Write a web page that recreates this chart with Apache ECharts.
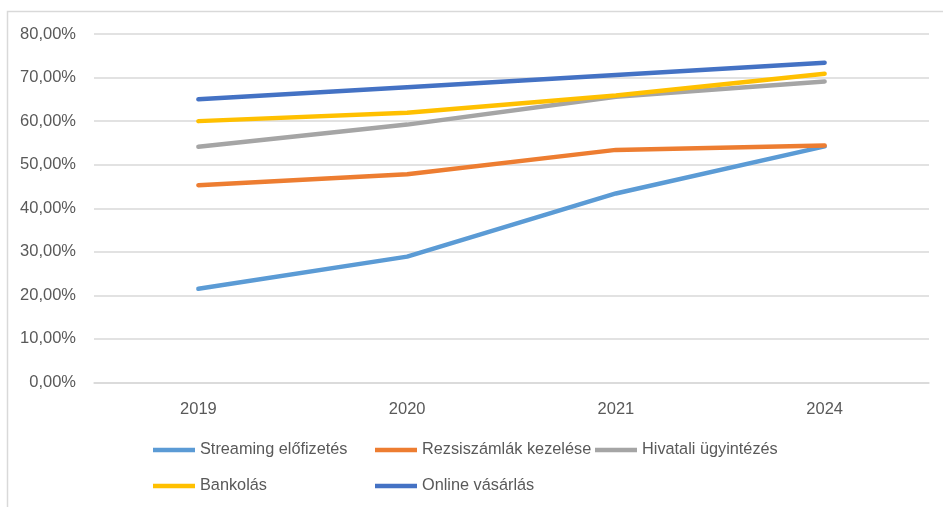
<!DOCTYPE html>
<html><head><meta charset="utf-8">
<script src="https://cdn.jsdelivr.net/npm/echarts@6/dist/echarts.min.js"></script>
<style>html,body{margin:0;padding:0;background:#fff}#c{width:943px;height:507px}</style>
</head><body><div id="c"></div>
<script>
const categories = ['2019', '2020', '2021', '2024'];
const streaming = [21.5, 28.9, 43.4, 54.2];
const rezsi = [45.3, 47.8, 53.4, 54.4];
const hivatali = [54.1, 59.2, 65.6, 69.1];
const bankolas = [60.0, 61.9, 65.9, 70.9];
const online = [65.0, 67.8, 70.6, 73.4];
const seriesNames = ['Streaming előfizetés', 'Rezsiszámlák kezelése', 'Hivatali ügyintézés', 'Bankolás', 'Online vásárlás'];
const colors = ['#5B9BD5', '#ED7D31', '#A5A5A5', '#FFC000', '#4472C4'];
const values = [streaming, rezsi, hivatali, bankolas, online];

const font = 'Liberation Sans';
const chart = echarts.init(document.getElementById('c'), null, {renderer: 'canvas'});
const legendSlots = [[153, 437], [375, 437], [595, 437], [153, 473], [375, 473]];
const legends = seriesNames.map((n, i) => ({
  data: [n], left: legendSlots[i][0] - 5, top: legendSlots[i][1],
  itemWidth: 42, itemHeight: 4.5, icon: 'rect', selectedMode: false,
  textStyle: {fontFamily: font, fontSize: 16.3, color: '#595959'}
}));
chart.setOption({
  animation: false,
  color: colors,
  graphic: [{type: 'rect', shape: {x: 7.5, y: 11.5, width: 950, height: 510}, style: {fill: 'none', stroke: '#d9d9d9', lineWidth: 1.5}}],
  grid: {left: 94, right: 14, top: 34, bottom: 124.5},
  legend: legends,
  xAxis: {
    type: 'category', data: categories, boundaryGap: true,
    axisLine: {show: true, lineStyle: {color: '#d9d9d9', width: 1.5}},
    axisTick: {show: false},
    axisLabel: {fontFamily: font, fontSize: 16.5, color: '#595959', margin: 18}
  },
  yAxis: {
    type: 'value', min: 0, max: 80, interval: 10,
    axisLine: {show: false}, axisTick: {show: false},
    splitLine: {lineStyle: {color: '#d9d9d9', width: 1.5}},
    axisLabel: {fontFamily: font, fontSize: 16.5, color: '#595959', margin: 18,
      formatter: v => v.toFixed(2).replace('.', ',') + '%'}
  },
  series: values.map((d, i) => ({
    name: seriesNames[i], type: 'line', data: d, symbol: 'none',
    lineStyle: {width: 4.5, color: colors[i], cap: 'round'}
  }))
});
</script></body></html>
